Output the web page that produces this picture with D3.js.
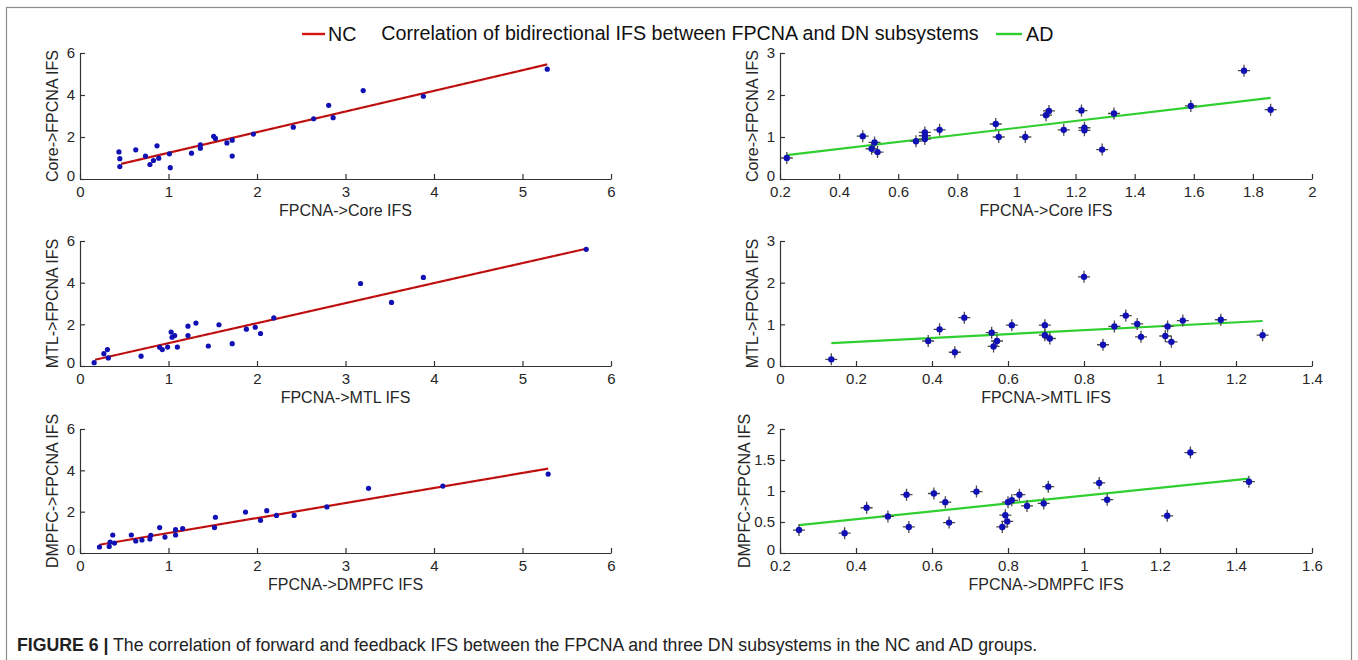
<!DOCTYPE html>
<html>
<head>
<meta charset="utf-8">
<script src="https://cdn.jsdelivr.net/npm/d3@7/dist/d3.min.js"></script>
<style>
  html, body { margin: 0; padding: 0; background: #fff; }
  svg { display: block; font-family: "Liberation Sans", Arial, Helvetica, sans-serif; }
</style>
</head>
<body>
<svg id="chart" width="1358" height="660"></svg>
<script>
// ---------- data ----------
const titleText = "Correlation of bidirectional IFS between FPCNA and DN subsystems";
const legendNames = ["NC", "AD"];
const captionBold = "FIGURE 6 |";
const captionText = " The correlation of forward and feedback IFS between the FPCNA and three DN subsystems in the NC and AD groups.";

const xLabels = ["FPCNA->Core IFS", "FPCNA->MTL IFS", "FPCNA->DMPFC IFS"];
const yLabels = ["Core->FPCNA IFS", "MTL->FPCNA IFS", "DMPFC->FPCNA IFS"];

// tick labels
const ncXTicks = [0, 1, 2, 3, 4, 5, 6];
const ncYTicks = [0, 2, 4, 6];
const adCoreXTicks = [0.2, 0.4, 0.6, 0.8, 1, 1.2, 1.4, 1.6, 1.8, 2];
const adCoreYTicks = [0, 1, 2, 3];
const adMtlXTicks = [0, 0.2, 0.4, 0.6, 0.8, 1, 1.2, 1.4];
const adMtlYTicks = [0, 1, 2, 3];
const adDmpfcXTicks = [0.2, 0.4, 0.6, 0.8, 1, 1.2, 1.4, 1.6];
const adDmpfcYTicks = [0, 0.5, 1, 1.5, 2];

// NC group
const ncCoreX = [0.44, 0.45, 0.45, 0.63, 0.74, 0.79, 0.83, 0.87, 0.89, 1.01, 1.02, 1.26, 1.36, 1.36, 1.51, 1.53, 1.66, 1.72, 1.72, 1.96, 2.41, 2.64, 2.81, 2.86, 3.20, 3.88, 5.28];
const ncCoreY = [1.29, 0.97, 0.59, 1.39, 1.09, 0.69, 0.88, 1.58, 0.99, 1.20, 0.54, 1.23, 1.63, 1.47, 2.03, 1.93, 1.72, 1.85, 1.09, 2.14, 2.47, 2.87, 3.51, 2.92, 4.21, 3.94, 5.23];
const ncCoreFit = [[0.465, 0.72], [5.28, 5.46]];

const ncMtlX = [0.16, 0.27, 0.31, 0.32, 0.69, 0.90, 0.93, 0.99, 1.03, 1.04, 1.07, 1.10, 1.22, 1.22, 1.31, 1.45, 1.57, 1.72, 1.88, 1.98, 2.04, 2.19, 3.17, 3.52, 3.88, 5.72];
const ncMtlY = [0.16, 0.59, 0.79, 0.39, 0.47, 0.90, 0.79, 0.91, 1.63, 1.38, 1.46, 0.91, 1.91, 1.46, 2.06, 0.96, 1.98, 1.07, 1.77, 1.86, 1.56, 2.31, 3.96, 3.05, 4.25, 5.60];
const ncMtlFit = [[0.17, 0.30], [5.72, 5.63]];

const ncDmpfcX = [0.22, 0.33, 0.34, 0.37, 0.39, 0.58, 0.63, 0.70, 0.79, 0.80, 0.90, 0.96, 1.08, 1.08, 1.16, 1.52, 1.53, 1.87, 2.04, 2.11, 2.22, 2.42, 2.79, 3.26, 4.10, 5.29];
const ncDmpfcY = [0.29, 0.32, 0.53, 0.87, 0.48, 0.87, 0.58, 0.63, 0.68, 0.86, 1.23, 0.77, 0.87, 1.13, 1.18, 1.23, 1.73, 1.98, 1.58, 2.05, 1.82, 1.82, 2.23, 3.13, 3.24, 3.82];
const ncDmpfcFit = [[0.22, 0.40], [5.29, 4.08]];

// AD group
const adCoreX = [0.223, 0.48, 0.52, 0.51, 0.53, 0.66, 0.69, 0.69, 0.69, 0.74, 0.93, 0.94, 1.03, 1.10, 1.11, 1.16, 1.22, 1.23, 1.23, 1.29, 1.33, 1.59, 1.77, 1.86];
const adCoreY = [0.50, 1.02, 0.87, 0.72, 0.64, 0.90, 1.11, 1.03, 0.95, 1.17, 1.31, 1.00, 1.00, 1.52, 1.62, 1.17, 1.63, 1.22, 1.16, 0.70, 1.56, 1.74, 2.58, 1.65];
const adCoreFit = [[0.223, 0.57], [1.86, 1.93]];

const adMtlX = [0.135, 0.39, 0.42, 0.46, 0.485, 0.557, 0.562, 0.571, 0.61, 0.697, 0.697, 0.71, 0.80, 0.85, 0.88, 0.91, 0.94, 0.95, 1.014, 1.02, 1.03, 1.06, 1.16, 1.27];
const adMtlY = [0.16, 0.60, 0.88, 0.33, 1.16, 0.80, 0.47, 0.60, 0.98, 0.98, 0.74, 0.66, 2.14, 0.51, 0.95, 1.21, 1.01, 0.70, 0.72, 0.95, 0.58, 1.09, 1.11, 0.74];
const adMtlFit = [[0.135, 0.55], [1.27, 1.08]];

const adDmpfcX = [0.25, 0.37, 0.428, 0.484, 0.533, 0.539, 0.605, 0.635, 0.645, 0.717, 0.785, 0.793, 0.798, 0.80, 0.81, 0.83, 0.85, 0.894, 0.906, 1.04, 1.061, 1.219, 1.28, 1.434];
const adDmpfcY = [0.37, 0.32, 0.73, 0.59, 0.94, 0.42, 0.96, 0.82, 0.49, 0.99, 0.42, 0.61, 0.51, 0.82, 0.85, 0.94, 0.76, 0.80, 1.07, 1.13, 0.86, 0.60, 1.62, 1.15];
const adDmpfcFit = [[0.25, 0.45], [1.434, 1.20]];

// ---------- drawing ----------
const svg = d3.select("#chart");
svg.append("rect").attr("width", 1358).attr("height", 660).attr("fill", "#fff");

// outer figure frame
svg.append("rect")
  .attr("x", 6.5).attr("y", 7.5).attr("width", 1345).attr("height", 670)
  .attr("fill", "none").attr("stroke", "#8c8c8c").attr("stroke-width", 1.2);

const colors = { NC: "#d41414", AD: "#2fcf2f", point: "#1010b4", plus: "#4a4a4a", text: "#262626", axis: "#333" };

const rows = [{ top: 53, bottom: 179 }, { top: 241, bottom: 366 }, { top: 429, bottom: 553 }];
const cols = [{ left: 80, right: 611 }, { left: 780, right: 1312 }];

const panels = [
  { r: 0, c: 0, g: "NC", xd: [0, 6], yd: [0, 6], xt: ncXTicks, yt: ncYTicks, xs: ncCoreX, ys: ncCoreY, fit: ncCoreFit, xl: xLabels[0], yl: yLabels[0], ylOff: 22 },
  { r: 1, c: 0, g: "NC", xd: [0, 6], yd: [0, 6], xt: ncXTicks, yt: ncYTicks, xs: ncMtlX, ys: ncMtlY, fit: ncMtlFit, xl: xLabels[1], yl: yLabels[1], ylOff: 22 },
  { r: 2, c: 0, g: "NC", xd: [0, 6], yd: [0, 6], xt: ncXTicks, yt: ncYTicks, xs: ncDmpfcX, ys: ncDmpfcY, fit: ncDmpfcFit, xl: xLabels[2], yl: yLabels[2], ylOff: 22 },
  { r: 0, c: 1, g: "AD", xd: [0.2, 2], yd: [0, 3], xt: adCoreXTicks, yt: adCoreYTicks, xs: adCoreX, ys: adCoreY, fit: adCoreFit, xl: xLabels[0], yl: yLabels[0], ylOff: 22 },
  { r: 1, c: 1, g: "AD", xd: [0, 1.4], yd: [0, 3], xt: adMtlXTicks, yt: adMtlYTicks, xs: adMtlX, ys: adMtlY, fit: adMtlFit, xl: xLabels[1], yl: yLabels[1], ylOff: 22 },
  { r: 2, c: 1, g: "AD", xd: [0.2, 1.6], yd: [0, 2], xt: adDmpfcXTicks, yt: adDmpfcYTicks, xs: adDmpfcX, ys: adDmpfcY, fit: adDmpfcFit, xl: xLabels[2], yl: yLabels[2], ylOff: 30 }
];

const fmt = d => String(+d.toFixed(2));

panels.forEach(p => {
  const row = rows[p.r], col = cols[p.c];
  const x = d3.scaleLinear().domain(p.xd).range([col.left, col.right]);
  const y = d3.scaleLinear().domain(p.yd).range([row.bottom, row.top]);
  const g = svg.append("g");

  // axes (MATLAB style: inward ticks, no box)
  const ax = g.append("g").attr("transform", `translate(0,${row.bottom})`)
    .call(d3.axisBottom(x).tickValues(p.xt).tickFormat(fmt).tickSizeInner(-5).tickSizeOuter(0).tickPadding(7));
  const ay = g.append("g").attr("transform", `translate(${col.left},0)`)
    .call(d3.axisLeft(y).tickValues(p.yt).tickFormat(fmt).tickSizeInner(-5).tickSizeOuter(0).tickPadding(5));
  [ax, ay].forEach(a => {
    a.select(".domain").attr("stroke", colors.axis).attr("stroke-width", 1.2);
    a.selectAll(".tick line").attr("stroke", colors.axis).attr("stroke-width", 1.2);
    a.selectAll(".tick text").attr("fill", colors.text).attr("font-size", 15)
      .attr("font-family", "'Liberation Sans', Arial, sans-serif");
  });
  // lift the bottom y tick label a touch so it does not collide with the first x tick label
  ay.selectAll(".tick text").filter(d => d === p.yd[0]).attr("dy", "0.1em");

  // axis titles
  g.append("text").attr("x", (col.left + col.right) / 2).attr("y", row.bottom + 37)
    .attr("text-anchor", "middle").attr("font-size", 16).attr("fill", colors.text).text(p.xl);
  const ylx = col.left - p.ylOff, yly = (row.top + row.bottom) / 2;
  g.append("text").attr("transform", `translate(${ylx},${yly}) rotate(-90)`)
    .attr("text-anchor", "middle").attr("font-size", 16).attr("fill", colors.text).text(p.yl);

  const pts = p.xs.map((v, i) => [v, p.ys[i]]);

  // regression line
  const line = d3.line().x(d => x(d[0])).y(d => y(d[1]));
  if (p.g === "NC") {
    g.append("path").attr("d", line(p.fit)).attr("fill", "none").attr("stroke", colors.NC).attr("stroke-width", 2.2);
    g.append("path").attr("d", line(p.fit)).attr("fill", "none").attr("stroke", "#3a1010").attr("stroke-width", 0.8)
      .attr("stroke-opacity", 0.55).attr("stroke-dasharray", "5,3");
  } else {
    g.append("path").attr("d", line(p.fit)).attr("fill", "none").attr("stroke", colors.AD).attr("stroke-width", 2.2);
  }

  // markers
  if (p.g === "AD") {
    const s = 6;
    g.selectAll("path.plus").data(pts).join("path").attr("class", "plus")
      .attr("d", d => `M${x(d[0]) - s},${y(d[1])}H${x(d[0]) + s}M${x(d[0])},${y(d[1]) - s}V${y(d[1]) + s}`)
      .attr("stroke", colors.plus).attr("stroke-width", 1.3).attr("fill", "none");
    g.selectAll("circle.pt").data(pts).join("circle").attr("class", "pt")
      .attr("cx", d => x(d[0])).attr("cy", d => y(d[1])).attr("r", 3.2).attr("fill", colors.point);
  } else {
    g.selectAll("circle.pt").data(pts).join("circle").attr("class", "pt")
      .attr("cx", d => x(d[0])).attr("cy", d => y(d[1])).attr("r", 2.6).attr("fill", colors.point);
  }
});

// title + legend
svg.append("text").attr("x", 680).attr("y", 40).attr("text-anchor", "middle")
  .attr("font-size", 19.7).attr("fill", "#111").text(titleText);
const legendPos = [{ x1: 302, x2: 325, tx: 328, color: colors.NC }, { x1: 996, x2: 1022, tx: 1026, color: colors.AD }];
legendNames.forEach((n, i) => {
  const lp = legendPos[i];
  svg.append("line").attr("x1", lp.x1).attr("x2", lp.x2).attr("y1", 34).attr("y2", 34)
    .attr("stroke", lp.color).attr("stroke-width", 2.4);
  svg.append("text").attr("x", lp.tx).attr("y", 41).attr("font-size", 19.7).attr("fill", "#111").text(n);
});

// caption
const cap = svg.append("text").attr("x", 17).attr("y", 651).attr("font-size", 17.7).attr("fill", "#222");
cap.append("tspan").attr("font-weight", "bold").text(captionBold);
cap.append("tspan").text(captionText);
</script>
</body>
</html>
